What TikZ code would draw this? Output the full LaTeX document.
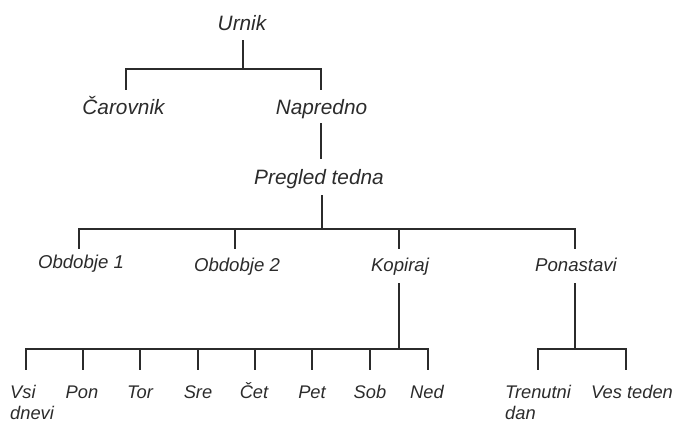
\documentclass[tikz,border=0pt]{standalone}
\usepackage{fontspec}
\setmainfont{Liberation Sans}
\definecolor{ink}{HTML}{2B2B2B}
\begin{document}
\begin{tikzpicture}[x=1pt,y=-1pt,
  big/.style={font=\fontsize{20.8}{25}\selectfont\itshape, text=ink, inner sep=0pt, anchor=base},
  mid/.style={font=\fontsize{18.6}{22}\selectfont\itshape, text=ink, inner sep=0pt, anchor=base},
  sml/.style={font=\fontsize{18.3}{22}\selectfont\itshape, text=ink, inner sep=0pt, anchor=base},
  two/.style={font=\fontsize{18.3}{21}\selectfont\itshape, text=ink, inner sep=0pt, anchor=north west, align=left},
  conn/.style={draw=ink, line width=1.9pt, line join=miter, line cap=rect}]
\useasboundingbox (0,0) rectangle (677,421);
% nodes
\node[big] (urnik) at (242,30) {Urnik};
\node[big] (car) at (123.5,114) {Čarovnik};
\node[big] (nap) at (321.5,114) {Napredno};
\node[big] (preg) at (319,184) {Pregled tedna};
\node[mid] (ob1) at (81,268) {Obdobje 1};
\node[mid] (ob2) at (237,271) {Obdobje 2};
\node[mid] (kop) at (400,271) {Kopiraj};
\node[mid] (pon) at (576,271) {Ponastavi};
\node[two] (vsi) at (10,385) {Vsi\\dnevi};
\node[sml] (ponD) at (82,398) {Pon};
\node[sml] (tor) at (140,398) {Tor};
\node[sml] (sre) at (198,398) {Sre};
\node[sml] (cet) at (254,398) {Čet};
\node[sml] (pet) at (312,398) {Pet};
\node[sml] (sob) at (370,398) {Sob};
\node[sml] (ned) at (427,398) {Ned};
\node[two] (tren) at (505,385) {Trenutni\\dan};
\node[sml] (ves) at (632,398) {Ves teden};
% connector end points
\coordinate (urnikB) at (243,41);
\coordinate (j1) at (243,69);
\coordinate (carT) at (126,89);
\coordinate (napT) at (321,89);
\coordinate (napB) at (321,124);
\coordinate (pregT) at (321,158);
\coordinate (pregB) at (322,196);
\coordinate (j2) at (322,229);
\coordinate (ob1T) at (79,248);
\coordinate (ob2T) at (235,248);
\coordinate (kopT) at (399,248);
\coordinate (ponT) at (575,248);
\coordinate (kopB) at (399,284);
\coordinate (j3) at (399,349);
\coordinate (ponB) at (575,284);
\coordinate (j4) at (575,349);
\coordinate (vsiT) at (26,369);
\coordinate (ponDT) at (83,369);
\coordinate (torT) at (140,369);
\coordinate (sreT) at (198,369);
\coordinate (cetT) at (255,369);
\coordinate (petT) at (312,369);
\coordinate (sobT) at (370,369);
\coordinate (nedT) at (428,369);
\coordinate (trenT) at (538,369);
\coordinate (vesT) at (626,369);
% connectors
\draw[conn] (urnikB) -- (j1);
\draw[conn] (carT) |- (j1) -| (napT);
\draw[conn] (napB) -- (pregT);
\draw[conn] (pregB) -- (j2);
\draw[conn] (ob1T) |- (j2) -| (ponT);
\draw[conn] (ob2T) -- (ob2T |- j2);
\draw[conn] (kopT) -- (kopT |- j2);
\draw[conn] (kopB) -- (j3);
\draw[conn] (vsiT) |- (j3) -| (nedT);
\foreach \c in {ponDT,torT,sreT,cetT,petT,sobT} \draw[conn] (\c) -- (\c |- j3);
\draw[conn] (ponB) -- (j4);
\draw[conn] (trenT) |- (j4) -| (vesT);
\end{tikzpicture}
\end{document}
